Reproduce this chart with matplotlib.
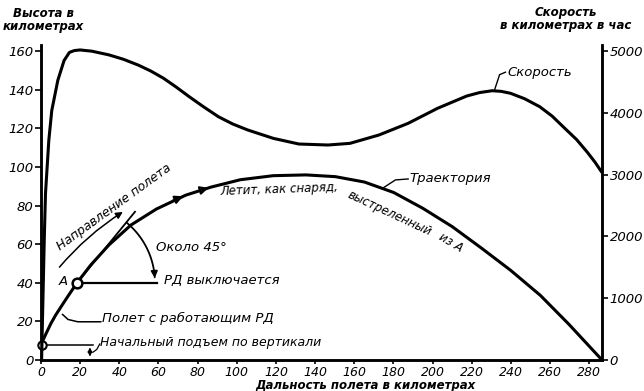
import numpy as np
import matplotlib
matplotlib.use("Agg")
import matplotlib.pyplot as plt

plt.rcParams["font.family"] = ["DejaVu Sans"]
plt.rcParams["font.style"] = "italic"

# траектория: дальность (км) -> высота (км)
traj_km = [0, 2.5, 5, 7.5, 10.5, 14, 18.4, 25.4, 34.7, 45.9, 58.9, 73.9, 86.9,
           101.8, 118.6, 135.3, 150.3, 165.2, 180.1, 195, 210, 224.9, 239.8,
           255, 269.6, 286.5]
traj_alt = [8, 13.5, 18.8, 23.3, 28, 33.4, 40, 49.2, 59.6, 69.9, 78.2, 85.4, 89.6,
            93.4, 95.5, 95.9, 95, 92.2, 86.8, 78.6, 69.1, 58, 46.5, 33.5, 18.5, 0]

# скорость: дальность (км) -> км/час
speed_km = [0.3, 1.0, 1.7, 2.3, 4.0, 5.5, 8.6, 11.8, 14.5, 17, 20, 26, 34.7, 42,
            49.6, 56, 62.6, 69, 75.7, 83, 90.6, 98, 105.6, 118.6, 131.7, 146.6,
            157.8, 172.6, 187.5, 202.5, 217.4, 224, 230.4, 235, 239.8, 247,
            254.7, 261, 267.7, 273.5, 278.9, 283, 286.4]
speed_val = [0, 1000, 2000, 2700, 3560, 4040, 4530, 4850, 4980, 5010, 5020, 5000,
             4940, 4870, 4776, 4680, 4561, 4420, 4263, 4100, 3939, 3820, 3724,
             3589, 3497, 3481, 3508, 3643, 3832, 4075, 4274, 4330, 4360, 4350,
             4318, 4230, 4101, 3950, 3745, 3570, 3368, 3200, 3040]

x_ticks = list(range(0, 281, 20))
alt_ticks = list(range(0, 161, 20))
speed_ticks = [0, 1000, 2000, 3000, 4000, 5000]

point_a = (18.4, 40)

fig = plt.figure(figsize=(6.44, 3.91), dpi=100)
ax = fig.add_axes([41 / 644, 31 / 391, 561 / 644, 314.6 / 391])
ax2 = ax.twinx()

ax.set_xlim(0, 286.5)
ax.set_ylim(0, 163)
ax2.set_ylim(0, 163 * 5000 / 160)

for a in (ax, ax2):
    a.spines["top"].set_visible(False)
    for s in ("left", "right", "bottom"):
        a.spines[s].set_linewidth(1.8)

ax.set_xticks(x_ticks)
ax.set_yticks(alt_ticks)
ax2.set_yticks(speed_ticks)
ax.tick_params(axis="x", direction="out", length=3, width=1.2, pad=1.5, labelsize=9)
ax.tick_params(axis="y", direction="out", length=4, width=1.2, pad=1.5, labelsize=9.5)
ax2.tick_params(axis="y", direction="out", length=4, width=1.2, pad=1.5, labelsize=9.5)

# кривые
ax.plot(traj_km, traj_alt, color="black", lw=2.2, solid_capstyle="round",
        solid_joinstyle="round", zorder=3)
ax2.plot(speed_km, speed_val, color="black", lw=2.2, solid_capstyle="round",
         solid_joinstyle="round", zorder=3)

# точки старта и А
ax.plot([0.6], [8], "o", ms=6, mfc="white", mec="black", mew=1.5, zorder=5, clip_on=False)
ax.plot([point_a[0]], [point_a[1]], "o", ms=7, mfc="white", mec="black", mew=1.8, zorder=5)

# стрелки на траектории
for (x0, y0), (x1, y1) in [((66, 82), (73.9, 85.4)), ((80, 87.5), (86.9, 89.6))]:
    ax.annotate("", xy=(x1, y1), xytext=(x0, y0),
                arrowprops=dict(arrowstyle="-|>", color="black", lw=1.5,
                                mutation_scale=12), zorder=4)

# касательная и горизонталь из А
ax.plot([point_a[0], 48], [point_a[1], 76.8], color="black", lw=1.3)
ax.plot([point_a[0], 59], [point_a[1], point_a[1]], color="black", lw=1.6)

# дуга "около 45°"
t = np.radians(np.linspace(50, 6, 30))
ax.plot(point_a[0] + 39.8 * np.cos(t), point_a[1] + 40.4 * np.sin(t),
        color="black", lw=1.3)
ax.annotate("", xy=(58.2, 41), xytext=(point_a[0] + 39.8 * np.cos(t[-1]),
                                         point_a[1] + 40.4 * np.sin(t[-1])),
            arrowprops=dict(arrowstyle="-|>", color="black", lw=1.2, mutation_scale=10))

# направление полета
ax.annotate("", xy=(43, 77.5), xytext=(8.5, 47),
            arrowprops=dict(arrowstyle="-|>", color="black", lw=1.1,
                            mutation_scale=10, connectionstyle="arc3,rad=-0.08"))
ax.text(37.3, 79, "Направление полета", rotation=36, ha="center", va="center",
        fontsize=9)

# начальный подъем
ax.plot([0.8, 26.5], [8, 8], color="black", lw=1.1)
ax.annotate("", xy=(25, 0.3), xytext=(25, 8),
            arrowprops=dict(arrowstyle="<|-|>", color="black", lw=1.0, mutation_scale=6))
ax.plot([26.5, 28.5, 30], [4, 5.5, 8.3], color="black", lw=0.9)
ax.text(30.2, 9.3, "Начальный подъем по вертикали", ha="left", va="center", fontsize=9)

# полет с работающим РД
ax.plot([11, 13.8, 18.8, 30.5], [23.6, 21, 19.8, 19.8], color="black", lw=1.1)
ax.text(31.3, 21.3, "Полет с работающим РД", ha="left", va="center", fontsize=9.5)

ax.text(11.4, 40.6, "A", ha="center", va="center", fontsize=9.5)
ax.text(58.8, 58.5, "Около 45°", ha="left", va="center", fontsize=9.5)
ax.text(62.8, 41, "РД выключается", ha="left", va="center", fontsize=9.5)

# текст вдоль траектории
ax.text(121.5, 88.6, "Летит, как снаряд,", rotation=2, ha="center", va="center",
        fontsize=8.5)
ax.text(178, 76, "выстреленный", rotation=-25, ha="center", va="center", fontsize=8.5)
ax.text(209.5, 61, "из А", rotation=-31, ha="center", va="center", fontsize=8.5)

# выноски
ax.plot([174.5, 181, 187.5], [89, 93.3, 93.8], color="black", lw=1.0)
ax.text(188.3, 93.8, "Траектория", ha="left", va="center", fontsize=9.5)
ax2.plot([231.5, 234.2, 237.2], [4360, 4620, 4660], color="black", lw=1.0)
ax2.text(238, 4650, "Скорость", ha="left", va="center", fontsize=9.5)

# подписи осей
fig.text(43 / 644, 1 - 20 / 391, "Высота в\nкилометрах", ha="center", va="center",
         fontsize=8.5, weight="bold", linespacing=1.0)
fig.text(566 / 644, 1 - 19 / 391, "Скорость\nв километрах в час", ha="center",
         va="center", fontsize=8.5, weight="bold", linespacing=1.0)
fig.text(365 / 644, 1 - 385 / 391, "Дальность полета в километрах", ha="center",
         va="center", fontsize=8.5, weight="bold")

fig.savefig("out.png", dpi=100)
